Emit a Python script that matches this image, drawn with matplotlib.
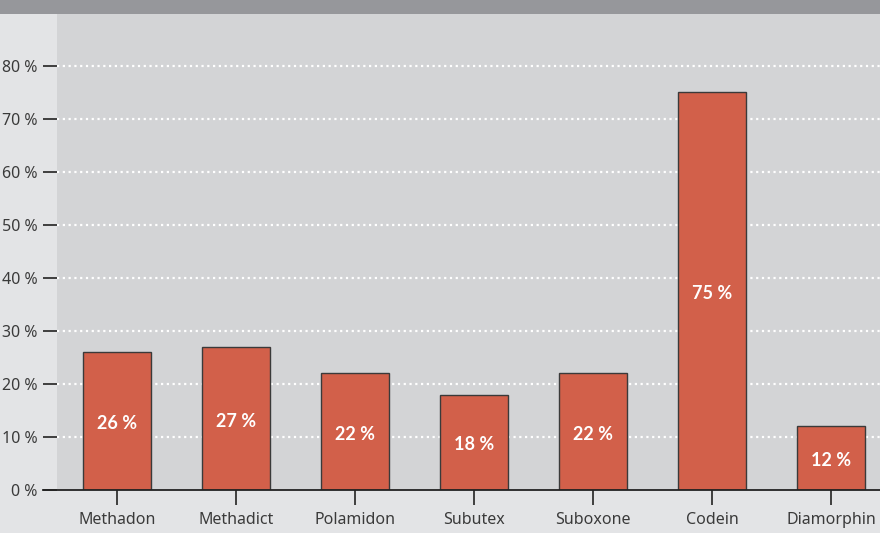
import matplotlib.pyplot as plt
from matplotlib.patches import Rectangle

drugs = ['Methadon', 'Methadict', 'Polamidon', 'Subutex', 'Suboxone', 'Codein', 'Diamorphin']
shares = [26, 27, 22, 18, 22, 75, 12]
yticks = [0, 10, 20, 30, 40, 50, 60, 70, 80]

plt.rcParams['font.family'] = ['Noto Sans', 'DejaVu Sans']

fig = plt.figure(figsize=(8.8, 5.33), dpi=100, facecolor='#e3e4e6')
W, H = 880, 533
ax = fig.add_axes([57 / W, (H - 490) / H, (880 - 57) / W, (490 - 14) / H])
ax.set_facecolor('#d3d4d6')

# grey band on top
fig.patches.append(Rectangle((0, (H - 14) / H), 1, 14 / H, transform=fig.transFigure,
                             facecolor='#96979b', edgecolor='none', zorder=0))

x = list(range(len(drugs)))
ax.bar(x, shares, width=0.57, color='#d2604a', edgecolor='#3a3a3a', linewidth=1.0, zorder=3)

for xi, v in zip(x, shares):
    ax.text(xi, v / 2 - 0.5, f'{v} %', ha='center', va='center', color='white',
            fontsize=13, fontweight='bold', family=['Lato', 'DejaVu Sans'], zorder=4)

ax.set_xlim(-0.504, 6.41)
ax.set_ylim(0, 89.8)

for t in yticks[1:]:
    ax.axhline(t, color='white', linestyle=(0, (1, 1.6)), linewidth=1.6, zorder=1)

ax.set_yticks(yticks)
ax.set_yticklabels([f'{t} %' for t in yticks])
ax.set_xticks(x)
ax.set_xticklabels(drugs)
ax.tick_params(axis='y', direction='out', length=10, width=1.2, color='#222222',
               labelsize=11.5, labelcolor='#3a3a3a', pad=4)
ax.tick_params(axis='x', direction='out', length=11, width=1.2, color='#222222',
               labelsize=11.5, labelcolor='#3a3a3a', pad=5)

for s in ['top', 'right', 'left', 'bottom']:
    ax.spines[s].set_visible(False)
# baseline running out to the left under the tick marks
ax.plot([-0.504 - 14 / 119, 6.41], [0, 0], color='#222222', linewidth=1.3,
        clip_on=False, zorder=5)

fig.savefig('out.png', dpi=100, facecolor=fig.get_facecolor())
